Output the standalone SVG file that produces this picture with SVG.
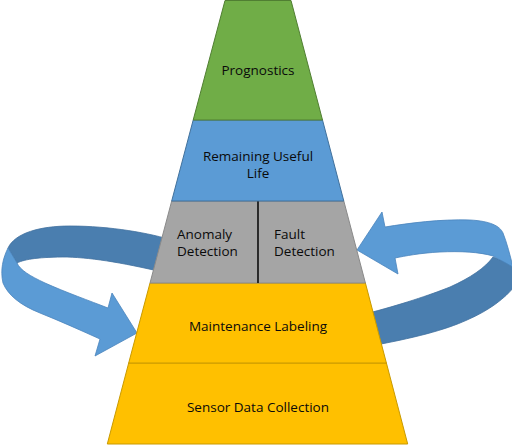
<svg xmlns="http://www.w3.org/2000/svg" width="512" height="445" viewBox="0 0 512 445">
<style>
.t{font-family:"Open Sans","Liberation Sans",Arial,sans-serif;font-size:13.5px;fill:#0a0a0a}
.c{text-anchor:middle}
.lt{fill:#5B9BD5;stroke:#4A84BC;stroke-width:0.8}
.dk{fill:#4A7EAF;stroke:#40709E;stroke-width:0.8}
</style>
<rect width="512" height="445" fill="#ffffff"/>
<g id="connectors">
<g id="arrow-left">
<path class="dk" d="M175,241 C150,233 110,226 70,226 C40,226 15,233 8,248 L17,263 C25,259 40,257 67,257 C95,258 125,263 175,275 Z"/>
<path class="lt" d="M8,248 C3,258 0,270 3,283 C8,295 20,305 40,313 C60,321 80,330 100,339 L95,356 L137,333 L112,293 L108,308 C90,301 65,292 45,283 C30,276 20,270 17,263 Z"/>
</g>
<g id="arrow-right">
<path class="dk" d="M493,257 C500,260 508,263 514,267 L514,287 C505,298 490,310 467,320 C445,330 415,338 365,347 L365,314 C400,305 430,295 450,287 C470,278 485,268 493,257 Z"/>
<path class="lt" d="M357,250 L382,212 L385,227 C410,223 440,219 470,220 C490,221 500,226 503,233 C507,243 510,255 513,267 L493,256 C480,252 460,251 440,252 C420,253 405,256 395,258 L398,274 Z"/>
</g>
</g>
<g id="node-sensor">
<polygon points="128.7,363 386.4,363 407.7,444 107.3,444" fill="#FFC000" stroke="#C99A00" stroke-width="1"/>
<text class="t c" x="258" y="412">Sensor Data Collection</text>
</g>
<g id="node-maintenance">
<polygon points="150,283 365.4,283 386.4,363 128.7,363" fill="#FFC000" stroke="#C99A00" stroke-width="1"/>
<text class="t c" x="258" y="331">Maintenance Labeling</text>
</g>
<g id="node-anomaly">
<polygon points="171.7,201 258,201 258,283 150,283" fill="#A5A5A5" stroke="#8A8A8A" stroke-width="1"/>
<text class="t" x="177" y="239">Anomaly</text>
<text class="t" x="177" y="256">Detection</text>
</g>
<g id="node-fault">
<polygon points="258,201 343.8,201 365.4,283 258,283" fill="#A5A5A5" stroke="#8A8A8A" stroke-width="1"/>
<text class="t" x="274" y="239">Fault</text>
<text class="t" x="274" y="256">Detection</text>
</g>
<line x1="258" y1="201" x2="258" y2="283" stroke="#111111" stroke-width="1.6"/>
<g id="node-rul">
<polygon points="193.2,120 322.5,120 343.8,201 171.7,201" fill="#5B9BD5" stroke="#41719C" stroke-width="1"/>
<text class="t c" x="258" y="161">Remaining Useful</text>
<text class="t c" x="258" y="178">Life</text>
</g>
<g id="node-prognostics">
<polygon points="225,0.5 291,0.5 322.5,120 193.2,120" fill="#70AD47" stroke="#507E32" stroke-width="1"/>
<text class="t c" x="258" y="75">Prognostics</text>
</g>
</svg>
